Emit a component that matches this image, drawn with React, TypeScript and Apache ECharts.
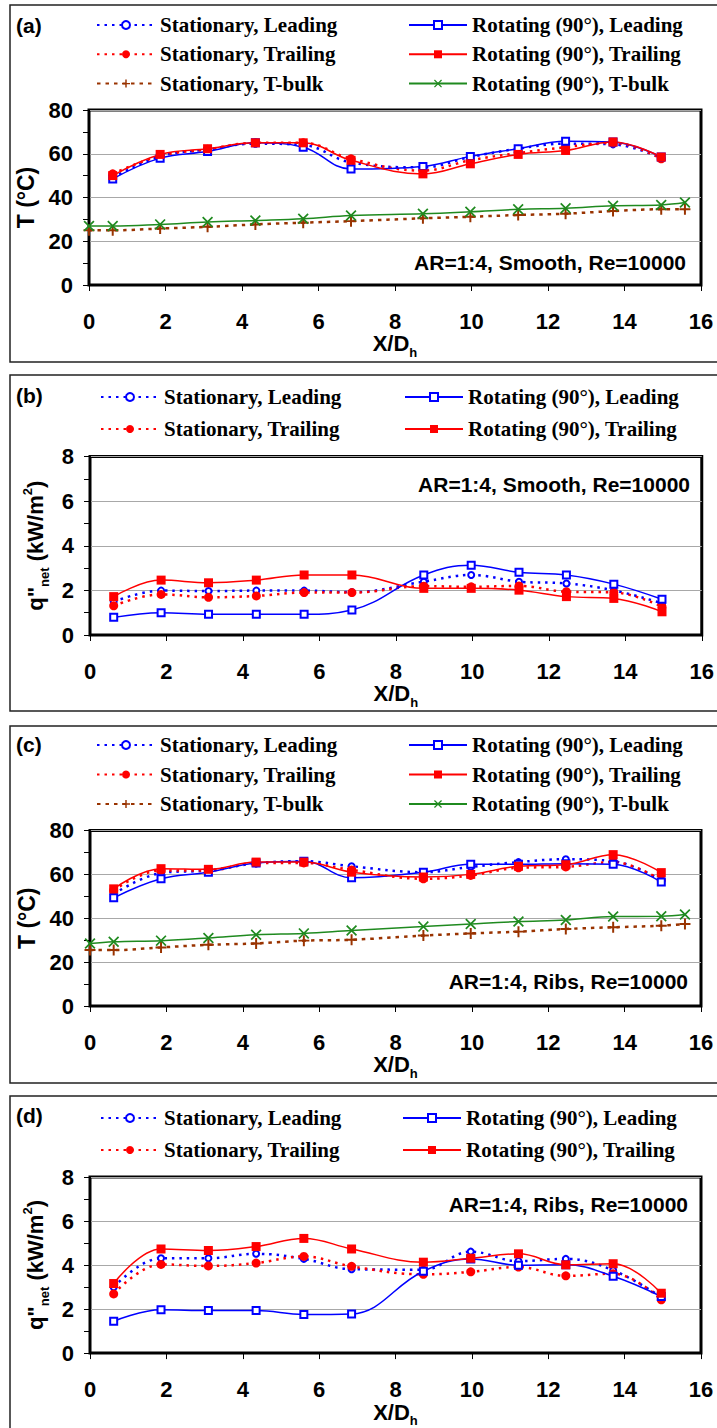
import React, { useEffect, useRef } from "react";
import * as echarts from "echarts";

// ---- data ----
const xStations = [0.62, 1.86, 3.1, 4.35, 5.6, 6.85, 8.73, 9.97, 11.22, 12.46, 13.7, 14.96];
const xBulk = [0, 0.62, 1.86, 3.1, 4.35, 5.6, 6.85, 8.73, 9.97, 11.22, 12.46, 13.7, 14.96, 15.58];

const legendNames = [
  "Stationary, Leading",
  "Stationary, Trailing",
  "Stationary, T-bulk",
  "Rotating (90°), Leading",
  "Rotating (90°), Trailing",
  "Rotating (90°), T-bulk",
];

// (a) Temperature, smooth
const aStatLead = [49, 58.8, 62, 64.6, 64, 56, 53.8, 58.5, 62.3, 64.6, 64.3, 58];
const aStatTrail = [50.8, 59, 62, 65, 65, 57.7, 52.3, 57, 60.3, 63, 65, 57.7];
const aStatBulk = [25, 25, 25.8, 26.6, 27.7, 28.5, 29.2, 30.5, 31.2, 32, 32.6, 33.8, 34.6, 34.6];
const aRotLead = [48.5, 58, 61, 65, 63, 53, 54.2, 58.8, 62.3, 65.7, 65.4, 58.5];
const aRotTrail = [50, 59.7, 62.3, 65, 65, 57, 50.8, 55.4, 59.7, 61.5, 65.4, 58.5];
const aRotBulk = [27, 27, 27.7, 28.8, 29.5, 30.3, 31.8, 32.6, 33.5, 34.6, 35.1, 36.2, 36.6, 37.7];

// (b) heat flux, smooth
const bStatLead = [1.49, 1.99, 1.97, 1.99, 1.99, 1.92, 2.39, 2.69, 2.39, 2.31, 2.0, 1.42];
const bStatTrail = [1.31, 1.82, 1.69, 1.75, 1.9, 1.9, 2.19, 2.16, 2.2, 1.94, 1.91, 1.27];
const bRotLead = [0.79, 1.0, 0.93, 0.93, 0.93, 1.12, 2.69, 3.13, 2.81, 2.69, 2.28, 1.6];
const bRotTrail = [1.72, 2.46, 2.34, 2.46, 2.69, 2.69, 2.09, 2.09, 2.01, 1.72, 1.64, 1.04];

// (c) Temperature, ribs
const cStatLead = [51, 60.6, 61.8, 65, 66, 63.7, 61, 63.4, 65.6, 66.9, 66, 57.3];
const cStatTrail = [52.7, 61.8, 61.8, 65.2, 65.2, 62, 58, 59.5, 63, 63.4, 65.6, 57.3];
const cStatBulk = [25.5, 25.5, 26.7, 27.9, 28.5, 29.8, 30.2, 32.1, 33.1, 33.9, 35.1, 35.9, 36.6, 37.4];
const cRotLead = [49.3, 58, 61, 65.2, 66, 58.5, 61, 64.6, 64.6, 64.9, 64.6, 56.5];
const cRotTrail = [53.4, 62.6, 62.3, 65.6, 65.6, 61, 58.8, 60, 63.7, 64.4, 69, 60.8];
const cRotBulk = [28.5, 29.3, 29.8, 31, 32.5, 33.1, 34.4, 36.2, 37.4, 38.5, 39.2, 40.8, 40.9, 41.7];

// (d) heat flux, ribs
const dStatLead = [2.99, 4.31, 4.31, 4.51, 4.28, 3.81, 3.79, 4.61, 4.18, 4.28, 3.76, 2.54];
const dStatTrail = [2.69, 4.03, 3.96, 4.09, 4.39, 3.94, 3.58, 3.69, 3.91, 3.51, 3.61, 2.42];
const dRotLead = [1.45, 1.97, 1.93, 1.93, 1.75, 1.78, 3.72, 4.28, 3.99, 4.01, 3.49, 2.57];
const dRotTrail = [3.16, 4.73, 4.66, 4.84, 5.21, 4.73, 4.13, 4.31, 4.51, 4.01, 4.06, 2.72];

const panelLabels = ["(a)", "(b)", "(c)", "(d)"];
const annotations = [
  "AR=1:4, Smooth, Re=10000",
  "AR=1:4, Smooth, Re=10000",
  "AR=1:4, Ribs, Re=10000",
  "AR=1:4, Ribs, Re=10000",
];

// ---- styling ----
const SANS = '"Liberation Sans", Arial, sans-serif';
const SERIF = '"Liberation Serif", "Times New Roman", serif';
const BLUE = "#0000ff";
const RED = "#ff0000";
const BROWN = "#993300";
const GREEN = "#1f8a1f";
const PLUS = "path://M4.1,0H5.9V4.1H10V5.9H5.9V10H4.1V5.9H0V4.1H4.1Z";
const CROSS = "path://M0,1.1L1.1,0L5,3.9L8.9,0L10,1.1L6.1,5L10,8.9L8.9,10L5,6.1L1.1,10L0,8.9L3.9,5Z";

const styles: Record<string, any> = {
  statLead: { symbol: "emptyCircle", symbolSize: 6, color: BLUE, width: 2.5, dash: [2.5, 5], bw: 1.5 },
  statTrail: { symbol: "circle", symbolSize: 9, color: RED, width: 2.5, dash: [2.5, 5], bw: 0 },
  statBulk: { symbol: PLUS, symbolSize: 11, color: BROWN, width: 2.5, dash: [3.5, 5], bw: 0 },
  rotLead: { symbol: "emptyRect", symbolSize: 7, color: BLUE, width: 1.5, dash: "solid", bw: 1.5 },
  rotTrail: { symbol: "rect", symbolSize: 9, color: RED, width: 1.5, dash: "solid", bw: 0 },
  rotBulk: { symbol: CROSS, symbolSize: 11, color: GREEN, width: 1.5, dash: "solid", bw: 0 },
};

// grid rectangles [left, top, width, height]
const grids = [
  [89, 110, 612, 175],
  [90, 456.5, 612, 178.5],
  [90, 830.5, 611, 175.5],
  [90, 1177, 611, 179],
];
const frames = [
  [10, 5, 730, 357],
  [10, 375, 730, 336],
  [10, 726, 730, 357],
  [10, 1096, 730, 400],
];
const labelY = [25, 395, 744, 1115];
const annPos = [
  [686, 262],
  [690, 484],
  [688, 981],
  [688, 1204],
];
const legendTops = [14.5, 386.5, 734.5, 1107.5];
const legendGaps = [8.3, 11, 8.5, 11];
const legendLefts = [
  [96, 408],
  [100, 404],
  [96, 408],
  [100, 402],
];

function series(name: string, key: string, xs: number[], ys: number[], gi: number) {
  const s = styles[key];
  return {
    type: "line",
    name,
    xAxisIndex: gi,
    yAxisIndex: gi,
    data: xs.map((x, i) => [x, ys[i]]),
    smooth: 0.4,
    clip: false,
    symbol: s.symbol,
    symbolSize: s.symbolSize,
    showAllSymbol: true,
    lineStyle: { color: s.color, width: s.width, type: s.dash },
    itemStyle: { color: s.color, borderColor: s.color, borderWidth: s.bw },
    emphasis: { disabled: true },
  };
}

export default function App() {
  const ref = useRef<HTMLDivElement>(null);
  useEffect(() => {
    if (!ref.current) return;
    const chart = echarts.init(ref.current, null, { renderer: "svg" });

    const tempName = "T (°C)";
    const fluxName = '{m|q"}{s|net}{m| (kW/m}{p|2}{m|)}';
    const nameRich = {
      m: { fontFamily: SANS, fontWeight: "bold", fontSize: 22, color: "#000", lineHeight: 30 },
      s: { fontFamily: SANS, fontWeight: "bold", fontSize: 13, color: "#000", verticalAlign: "bottom", lineHeight: 30 },
      p: { fontFamily: SANS, fontWeight: "bold", fontSize: 13, color: "#000", verticalAlign: "top", lineHeight: 30 },
    };

    const xAxis = grids.map((_, gi) => ({
      type: "value",
      gridIndex: gi,
      min: 0,
      max: 16,
      interval: 2,
      name: "{m|X/D}{s|h}",
      nameLocation: "middle",
      nameGap: 43,
      nameTextStyle: { rich: nameRich },
      axisLine: { show: true, onZero: false, lineStyle: { color: "#000", width: 1 } },
      axisTick: { show: true, length: 6, lineStyle: { color: "#000", width: 1 } },
      axisLabel: { margin: 25, fontFamily: SANS, fontWeight: "bold", fontSize: 22, color: "#000" },
      splitLine: { show: false },
    }));

    const yAxis = grids.map((_, gi) => {
      const isT = gi === 0 || gi === 2;
      return {
        type: "value",
        gridIndex: gi,
        min: 0,
        max: isT ? 80 : 8,
        interval: isT ? 20 : 2,
        name: isT ? tempName : fluxName,
        nameLocation: "middle",
        nameRotate: 90,
        nameGap: isT ? 47 : 37,
        nameTextStyle: isT
          ? { fontFamily: SANS, fontWeight: "bold", fontSize: 23, color: "#000" }
          : { rich: nameRich },
        axisLine: { show: true, onZero: false, lineStyle: { color: "#000", width: 1 } },
        axisTick: { show: true, length: 6, lineStyle: { color: "#000", width: 1 } },
        minorTick: { show: true, splitNumber: 2, length: 6, lineStyle: { color: "#000", width: 1 } },
        axisLabel: { margin: 16, fontFamily: SANS, fontWeight: "bold", fontSize: 22, color: "#000" },
        splitLine: { show: true, lineStyle: { color: "#a8a8a8", width: 1 } },
      };
    });

    const allSeries: any[] = [
      series(legendNames[0], "statLead", xStations, aStatLead, 0),
      series(legendNames[1], "statTrail", xStations, aStatTrail, 0),
      series(legendNames[2], "statBulk", xBulk, aStatBulk, 0),
      series(legendNames[3], "rotLead", xStations, aRotLead, 0),
      series(legendNames[4], "rotTrail", xStations, aRotTrail, 0),
      series(legendNames[5], "rotBulk", xBulk, aRotBulk, 0),

      series(legendNames[0], "statLead", xStations, bStatLead, 1),
      series(legendNames[1], "statTrail", xStations, bStatTrail, 1),
      series(legendNames[3], "rotLead", xStations, bRotLead, 1),
      series(legendNames[4], "rotTrail", xStations, bRotTrail, 1),

      series(legendNames[0], "statLead", xStations, cStatLead, 2),
      series(legendNames[1], "statTrail", xStations, cStatTrail, 2),
      series(legendNames[2], "statBulk", xBulk, cStatBulk, 2),
      series(legendNames[3], "rotLead", xStations, cRotLead, 2),
      series(legendNames[4], "rotTrail", xStations, cRotTrail, 2),
      series(legendNames[5], "rotBulk", xBulk, cRotBulk, 2),

      series(legendNames[0], "statLead", xStations, dStatLead, 3),
      series(legendNames[1], "statTrail", xStations, dStatTrail, 3),
      series(legendNames[3], "rotLead", xStations, dRotLead, 3),
      series(legendNames[4], "rotTrail", xStations, dRotTrail, 3),
    ];

    const legends: any[] = [];
    grids.forEach((_, gi) => {
      const hasBulk = gi === 0 || gi === 2;
      const leftNames = hasBulk ? legendNames.slice(0, 3) : legendNames.slice(0, 2);
      const rightNames = hasBulk ? legendNames.slice(3, 6) : legendNames.slice(3, 5);
      [leftNames, rightNames].forEach((names, ci) => {
        legends.push({
          orient: "vertical",
          left: legendLefts[gi][ci],
          top: legendTops[gi],
          itemWidth: 58,
          itemHeight: 10,
          itemGap: legendGaps[gi],
          padding: 0,
          selectedMode: false,
          data: names,
          textStyle: { fontFamily: SERIF, fontWeight: "bold", fontSize: 21, color: "#000" },
        });
      });
    });

    const graphics: any[] = [];
    frames.forEach((f) => {
      graphics.push({
        type: "rect",
        shape: { x: f[0], y: f[1], width: f[2], height: f[3] },
        style: { fill: "none", stroke: "#222", lineWidth: 1.5 },
        silent: true,
        z: -10,
      });
    });
    panelLabels.forEach((t, i) => {
      graphics.push({
        type: "text",
        x: 16,
        y: labelY[i],
        style: {
          text: t,
          fill: "#000",
          fontFamily: SANS,
          fontWeight: "bold",
          fontSize: 21,
          align: "left",
          verticalAlign: "middle",
          textAlign: "left",
          textVerticalAlign: "middle",
        },
      });
    });
    annotations.forEach((t, i) => {
      graphics.push({
        type: "text",
        x: annPos[i][0],
        y: annPos[i][1],
        z: 10,
        style: {
          text: t,
          fill: "#000",
          fontFamily: SANS,
          fontWeight: "bold",
          fontSize: 21,
          align: "right",
          verticalAlign: "middle",
          textAlign: "right",
          textVerticalAlign: "middle",
        },
      });
    });

    chart.setOption({
      animation: false,
      backgroundColor: "#fff",
      grid: grids.map((g) => ({
        left: g[0],
        top: g[1],
        width: g[2],
        height: g[3],
        show: true,
        borderColor: "#000",
        borderWidth: 3,
        backgroundColor: "transparent",
        containLabel: false,
      })),
      xAxis,
      yAxis,
      legend: legends,
      series: allSeries,
      graphic: graphics,
    });

    return () => chart.dispose();
  }, []);

  return (
    <div
      ref={ref}
      style={{ position: "absolute", left: 0, top: 0, width: 717, height: 1428 }}
    />
  );
}
